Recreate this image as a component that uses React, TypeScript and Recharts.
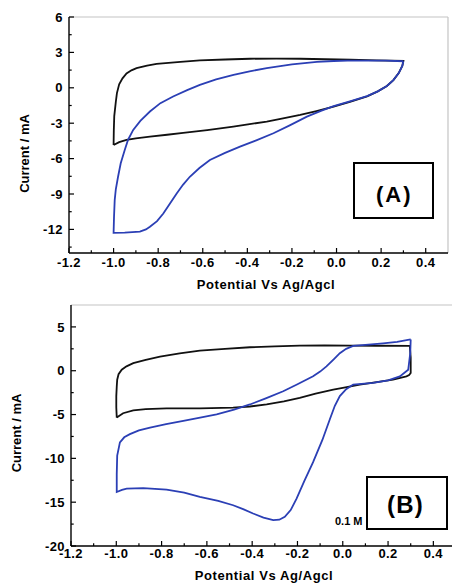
import React from "react"
import { LineChart, Line, XAxis, YAxis, ReferenceLine } from "recharts"

// tick values
const xMajor = [-1.2, -1.0, -0.8, -0.6, -0.4, -0.2, 0.0, 0.2, 0.4]
const xMinor = [-1.1, -0.9, -0.7, -0.5, -0.3, -0.1, 0.1, 0.3]
const yMajorA = [-12, -9, -6, -3, 0, 3, 6]
const yMinorA = [-13.5, -10.5, -7.5, -4.5, -1.5, 1.5, 4.5]
const yMajorB = [-20, -15, -10, -5, 0, 5]
const yMinorB = [-17.5, -12.5, -7.5, -2.5, 2.5]

// panel A curves [potential, current]
const blackA: [number, number][] = [
  [-1.0, -4.85], [-0.999, -3.6], [-0.997, -2.4], [-0.99, -1.2], [-0.985, -0.45],
  [-0.975, 0.3], [-0.96, 0.8], [-0.942, 1.22], [-0.92, 1.48], [-0.897, 1.67],
  [-0.85, 1.88], [-0.807, 2.02], [-0.7, 2.2], [-0.613, 2.32], [-0.5, 2.4],
  [-0.388, 2.46], [-0.27, 2.48], [-0.163, 2.46], [-0.05, 2.42], [0.062, 2.38],
  [0.18, 2.33], [0.3, 2.29], [0.295, 1.85], [0.279, 1.25], [0.255, 0.65],
  [0.226, 0.15], [0.185, -0.3], [0.137, -0.72], [0.06, -1.2], [-0.013, -1.59],
  [-0.09, -1.97], [-0.163, -2.3], [-0.24, -2.6], [-0.313, -2.86], [-0.39, -3.08],
  [-0.463, -3.29], [-0.58, -3.58], [-0.688, -3.82], [-0.76, -3.98], [-0.837, -4.14],
  [-0.9, -4.28], [-0.942, -4.42], [-0.975, -4.6], [-1.0, -4.85],
]
const blueA: [number, number][] = [
  [0.3, 2.25], [0.22, 2.3], [0.137, 2.31], [0.05, 2.3], [-0.013, 2.27],
  [-0.088, 2.2], [-0.2, 1.98], [-0.313, 1.67], [-0.39, 1.4], [-0.462, 1.1],
  [-0.54, 0.72], [-0.613, 0.25], [-0.67, -0.2], [-0.733, -0.74], [-0.79, -1.3],
  [-0.837, -2.01], [-0.88, -2.8], [-0.912, -3.57], [-0.935, -4.4], [-0.95, -5.27],
  [-0.968, -6.4], [-0.98, -7.54], [-0.99, -8.6], [-0.995, -9.52], [-0.998, -10.9],
  [-1.0, -12.3], [-0.95, -12.28], [-0.882, -12.18], [-0.855, -12.0], [-0.837, -11.78],
  [-0.805, -11.3], [-0.777, -10.65], [-0.747, -9.8], [-0.717, -8.95], [-0.688, -8.2],
  [-0.658, -7.54], [-0.615, -6.8], [-0.568, -6.12], [-0.5, -5.52], [-0.433, -4.99],
  [-0.36, -4.45], [-0.283, -3.85], [-0.21, -3.18], [-0.133, -2.44], [-0.07, -1.95],
  [-0.013, -1.55], [0.06, -1.15], [0.137, -0.7], [0.185, -0.3], [0.226, 0.15],
  [0.255, 0.65], [0.279, 1.25], [0.295, 1.85], [0.3, 2.25],
]

// panel B curves
const blackB: [number, number][] = [
  [-0.998, -5.35], [-1.0, -4.2], [-1.0, -2.9], [-0.998, -1.8], [-0.996, -1.02],
  [-0.99, -0.4], [-0.976, 0.11], [-0.955, 0.5], [-0.925, 0.87], [-0.87, 1.25],
  [-0.807, 1.62], [-0.72, 1.98], [-0.631, 2.3], [-0.52, 2.5], [-0.41, 2.68],
  [-0.3, 2.78], [-0.19, 2.86], [-0.08, 2.88], [0.031, 2.86], [0.15, 2.85],
  [0.296, 2.83], [0.3, 1.5], [0.3, -0.26], [0.293, -0.5], [0.281, -0.64],
  [0.222, -1.02], [0.15, -1.3], [0.075, -1.58], [0.0, -1.95], [-0.042, -2.15],
  [-0.12, -2.6], [-0.19, -3.09], [-0.26, -3.5], [-0.336, -3.85], [-0.41, -4.08],
  [-0.484, -4.22], [-0.631, -4.3], [-0.778, -4.3], [-0.87, -4.38], [-0.925, -4.52],
  [-0.97, -4.85], [-0.998, -5.35],
]
const blueB: [number, number][] = [
  [0.3, 3.58], [0.24, 3.3], [0.178, 3.13], [0.1, 2.95], [0.046, 2.83],
  [0.015, 2.5], [-0.013, 2.0], [-0.04, 1.3], [-0.072, 0.49], [-0.1, -0.1],
  [-0.131, -0.64], [-0.2, -1.55], [-0.263, -2.34], [-0.34, -3.15], [-0.41, -3.85],
  [-0.48, -4.45], [-0.557, -4.98], [-0.63, -5.35], [-0.704, -5.73], [-0.78, -6.1],
  [-0.851, -6.49], [-0.9, -6.8], [-0.94, -7.24], [-0.965, -7.6], [-0.984, -8.18],
  [-0.996, -9.69], [-0.998, -11.8], [-0.998, -13.84], [-0.975, -13.6], [-0.954, -13.46],
  [-0.881, -13.39], [-0.778, -13.57], [-0.7, -13.9], [-0.631, -14.4], [-0.55, -14.85],
  [-0.484, -15.35], [-0.44, -15.8], [-0.396, -16.29], [-0.35, -16.75], [-0.307, -17.04],
  [-0.28, -17.0], [-0.256, -16.67], [-0.23, -15.9], [-0.204, -14.6], [-0.17, -12.6],
  [-0.131, -10.44], [-0.09, -7.9], [-0.057, -5.54], [-0.035, -4.0], [-0.013, -2.9],
  [0.015, -2.1], [0.046, -1.58], [0.134, -1.39], [0.2, -1.1], [0.252, -0.64],
  [0.289, 0.11], [0.298, 2.0], [0.3, 3.58],
]

const FONT = "'Liberation Sans', Arial, sans-serif"
const BLUE = "#2b3fb5"

const toPts = (arr: [number, number][]) => arr.map(([x, y]) => ({ x, y }))

const makeXTick = (margin: number) => (props: any) => {
  const { x, y, payload } = props
  const v = payload.value
  const major = xMajor.includes(v)
  const axisY = y - margin
  return (
    <g>
      <line x1={x} x2={x} y1={axisY} y2={axisY - (major ? 5 : 2.7)} stroke="#000" strokeWidth={1.2} />
      {major && (
        <text x={x} y={y} textAnchor="middle" fontFamily={FONT} fontWeight="bold" fontSize={13} letterSpacing={0.4} fill="#000">
          {v.toFixed(1)}
        </text>
      )}
    </g>
  )
}

const makeYTick = (majors: number[]) => (props: any) => {
  const { x, y, payload } = props
  const v = payload.value
  const major = majors.includes(v)
  const axisX = x + 6
  return (
    <g>
      <line x1={axisX} x2={axisX + (major ? 5 : 2.7)} y1={y} y2={y} stroke="#000" strokeWidth={1.2} />
      {major && (
        <text x={x} y={y} dy={4.6} textAnchor="end" fontFamily={FONT} fontWeight="bold" fontSize={13} letterSpacing={0.4} fill="#000">
          {String(v)}
        </text>
      )}
    </g>
  )
}

function Panel(props: {
  width: number
  height: number
  top: number
  yAxisWidth: number
  xAxisHeight: number
  yDomain: [number, number]
  yMajor: number[]
  yMinor: number[]
  xMargin: number
  black: [number, number][]
  blue: [number, number][]
  rightBorder: boolean
}) {
  const { width, height, top, yAxisWidth, xAxisHeight, yDomain, yMajor, yMinor, xMargin, black, blue, rightBorder } = props
  return (
    <LineChart width={width} height={height} margin={{ top, right: 4, left: 0, bottom: 0 }}>
      <XAxis
        type="number"
        dataKey="x"
        domain={[-1.2, 0.5]}
        allowDataOverflow
        ticks={[...xMajor, ...xMinor]}
        interval={0}
        tickSize={0}
        tickMargin={xMargin}
        height={xAxisHeight}
        axisLine={{ stroke: "#000", strokeWidth: 1.4 }}
        tickLine={false}
        tick={makeXTick(xMargin)}
      />
      <YAxis
        type="number"
        dataKey="y"
        domain={yDomain}
        allowDataOverflow
        ticks={[...yMajor, ...yMinor]}
        interval={0}
        tickSize={0}
        tickMargin={6}
        width={yAxisWidth}
        axisLine={{ stroke: "#000", strokeWidth: 1.4 }}
        tickLine={false}
        tick={makeYTick(yMajor)}
      />
      <ReferenceLine y={yDomain[1]} stroke="#c4c4c4" strokeWidth={1.2} />
      {rightBorder && <ReferenceLine x={0.5} stroke="#c4c4c4" strokeWidth={1.2} />}
      <Line data={toPts(black)} dataKey="y" type="linear" stroke="#111" strokeWidth={1.8} dot={false} isAnimationActive={false} />
      <Line data={toPts(blue)} dataKey="y" type="linear" stroke={BLUE} strokeWidth={1.8} dot={false} isAnimationActive={false} />
    </LineChart>
  )
}

export default function App() {
  return (
    <div style={{ position: "fixed", left: 0, top: 0, width: 452, height: 584, overflow: "hidden", background: "#fff" }}>
      <div style={{ position: "absolute", left: 0, top: 0 }}>
        <Panel
          width={452}
          height={290}
          top={17}
          yAxisWidth={69}
          xAxisHeight={37}
          yDomain={[-14, 6]}
          yMajor={yMajorA}
          yMinor={yMinorA}
          xMargin={14}
          black={blackA}
          blue={blueA}
          rightBorder
        />
      </div>
      <div style={{ position: "absolute", left: 0, top: 290 }}>
        <Panel
          width={460}
          height={294}
          top={15}
          yAxisWidth={71}
          xAxisHeight={38}
          yDomain={[-20, 7.5]}
          yMajor={yMajorB}
          yMinor={yMinorB}
          xMargin={12}
          black={blackB}
          blue={blueB}
          rightBorder={false}
        />
      </div>
      <svg width={452} height={584} style={{ position: "absolute", left: 0, top: 0, pointerEvents: "none" }}>
        <g fontFamily={FONT} fontWeight="bold" fill="#000">
          <text x={266} y={289} textAnchor="middle" fontSize={13} letterSpacing={0.6}>Potential Vs Ag/Agcl</text>
          <text x={264} y={580} textAnchor="middle" fontSize={13} letterSpacing={0.6}>Potential Vs Ag/Agcl</text>
          <text transform="translate(28.5,153.5) rotate(-90)" textAnchor="middle" fontSize={13}>Current / mA</text>
          <text transform="translate(21,433) rotate(-90)" textAnchor="middle" fontSize={13}>Current / mA</text>
          <rect x={354} y={163} width={79} height={55} fill="#fff" stroke="#000" strokeWidth={2} />
          <text x={376} y={201.5} fontSize={22} letterSpacing={2}>(A)</text>
          <text x={335} y={525} fontSize={11}>0.1 M</text>
          <rect x={367} y={477} width={80} height={52} fill="#fff" stroke="#000" strokeWidth={2} />
          <text x={387} y={513} fontSize={24} letterSpacing={1.2}>(B)</text>
        </g>
      </svg>
    </div>
  )
}
